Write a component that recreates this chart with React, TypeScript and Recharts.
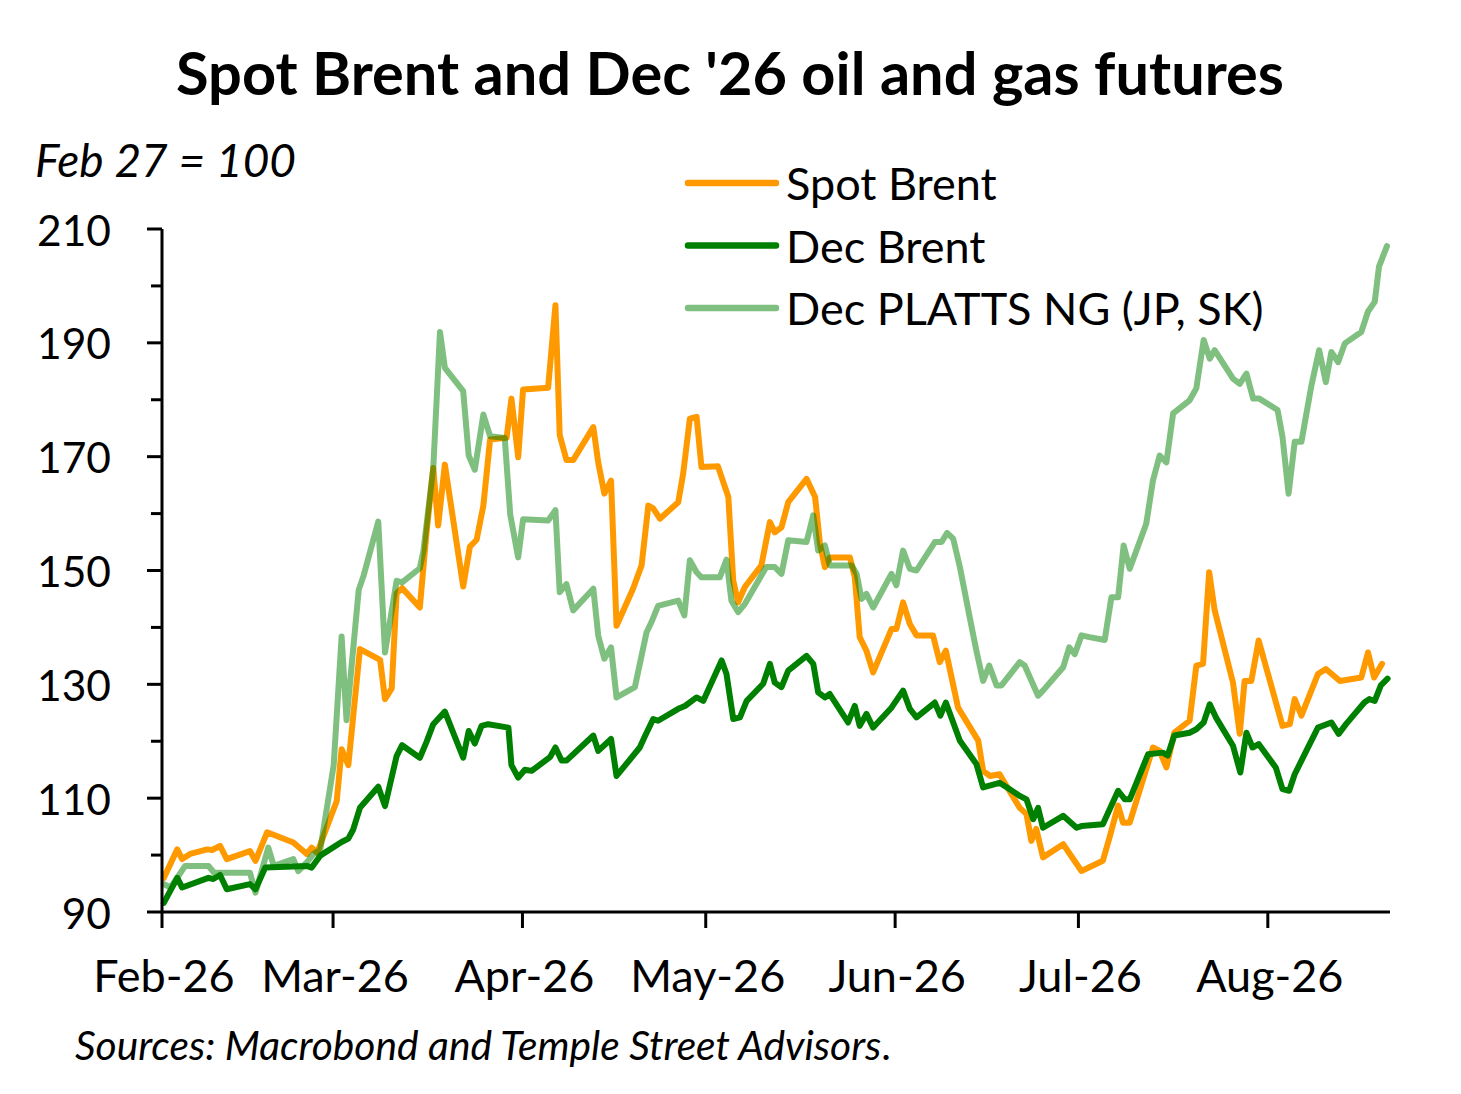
import React from "react";
import { LineChart, Line, XAxis, YAxis } from "recharts";

// days since Feb 1 2026, index Feb 27 = 100
const spotDays = [0.3, 2.5, 3.3, 4.6, 7.4, 8.2, 9.5, 10.6, 14.4, 15.3, 17.2, 21.5, 23.7, 24.5, 25.4, 28.6, 29.4, 30.5, 32.4, 35.7, 36.5, 37.6, 38.4, 39.3, 42.2, 43.3, 44.4, 45.2, 46.3, 49.3, 50.4, 51.5, 52.6, 53.7, 56.4, 57.2, 58.3, 59.1, 63.2, 64.4, 65.1, 66.2, 67.3, 70.6, 71.4, 72.4, 73.5, 74.4, 77.1, 78.5, 79.6, 80.4, 81.5, 84.5, 85.3, 86.4, 87.5, 88.3, 91.0, 92.7, 93.5, 94.3, 95.4, 98.1, 99.5, 100.3, 101.4, 102.5, 105.5, 106.9, 107.7, 108.5, 109.3, 112.6, 113.4, 114.2, 115.3, 116.4, 119.4, 120.2, 121.3, 122.4, 123.5, 126.2, 127.3, 128.3, 130.3, 133.6, 134.4, 135.5, 137.1, 138.7, 140.4, 141.5, 142.3, 143.1, 144.2, 147.5, 150.5, 154.0, 155.1, 156.5, 157.3, 158.4, 162.2, 163.3, 164.4, 165.7, 168.2, 169.3, 170.4, 171.4, 172.3, 175.3, 176.4, 177.2, 178.3, 179.5, 183.4, 184.6, 185.4, 186.5, 189.2, 190.5, 192.8, 196.3, 197.4, 198.4, 199.7];
const spotValues = [96.0, 101.0, 99.3, 100.2, 101.0, 100.9, 101.6, 99.3, 100.7, 99.0, 104.0, 102.2, 100.2, 101.3, 100.4, 109.5, 118.6, 115.8, 136.2, 134.3, 127.4, 129.3, 146.0, 146.9, 143.5, 156.7, 168.0, 157.9, 168.6, 147.2, 154.2, 155.4, 161.4, 173.0, 173.3, 180.2, 169.9, 181.8, 182.1, 196.6, 173.8, 169.4, 169.4, 175.2, 169.0, 163.5, 165.8, 140.3, 146.8, 150.9, 161.4, 160.9, 159.1, 162.0, 167.0, 176.7, 177.0, 168.2, 168.3, 162.9, 148.2, 144.4, 147.1, 150.9, 158.5, 156.7, 157.6, 162.0, 166.1, 162.9, 154.7, 150.6, 152.3, 152.3, 148.8, 138.3, 135.9, 132.1, 139.7, 139.7, 144.4, 140.6, 138.6, 138.6, 133.9, 135.9, 125.9, 120.1, 114.8, 113.9, 114.2, 111.3, 108.3, 107.2, 102.5, 104.6, 99.6, 101.9, 97.2, 99.0, 103.1, 108.7, 105.7, 105.7, 118.9, 118.3, 115.4, 121.5, 123.6, 133.3, 133.6, 149.7, 143.0, 130.3, 121.3, 130.6, 130.6, 137.7, 122.7, 123.0, 127.4, 124.5, 131.8, 132.7, 130.6, 131.2, 135.6, 131.2, 133.6];

const decDays = [0.3, 2.5, 3.3, 7.6, 8.4, 9.5, 10.6, 14.4, 15.3, 16.9, 23.7, 24.5, 25.9, 29.4, 30.5, 31.3, 32.4, 35.4, 36.5, 38.4, 39.3, 42.2, 43.3, 44.4, 46.3, 49.3, 50.2, 51.2, 52.3, 53.4, 56.7, 57.2, 58.3, 59.4, 60.5, 63.5, 64.4, 65.4, 66.2, 70.6, 71.4, 73.5, 74.4, 78.2, 79.1, 80.4, 81.2, 84.5, 85.6, 87.5, 88.6, 91.6, 92.4, 93.5, 94.6, 95.7, 98.4, 99.5, 100.3, 101.4, 102.5, 105.5, 106.6, 107.4, 108.5, 109.3, 112.3, 113.4, 114.2, 115.3, 116.4, 119.4, 121.3, 122.4, 123.5, 126.5, 127.4, 128.3, 130.6, 133.3, 134.4, 137.1, 138.7, 140.4, 141.5, 142.6, 143.4, 144.2, 147.5, 149.7, 150.5, 154.0, 156.5, 157.6, 158.4, 161.4, 163.8, 164.6, 165.7, 168.2, 169.3, 170.5, 171.5, 172.5, 175.3, 176.5, 177.5, 178.5, 179.5, 182.3, 183.4, 184.5, 185.4, 187.3, 189.2, 191.4, 192.6, 193.8, 196.8, 197.6, 198.5, 199.5, 200.6];
const decValues = [91.6, 96.0, 94.3, 96.0, 95.8, 96.5, 94.0, 94.9, 94.0, 97.8, 98.1, 97.8, 99.9, 102.3, 102.9, 104.5, 108.3, 112.0, 108.6, 117.4, 119.3, 117.1, 119.9, 123.0, 125.2, 117.1, 121.8, 119.6, 122.7, 123.0, 122.4, 115.8, 113.6, 115.0, 114.8, 117.2, 118.9, 116.6, 116.6, 121.0, 118.3, 120.4, 113.9, 118.9, 121.0, 123.9, 123.6, 125.7, 126.2, 127.7, 127.1, 134.2, 131.8, 123.9, 124.2, 127.1, 130.1, 133.6, 130.3, 129.5, 132.4, 135.0, 133.6, 128.6, 127.7, 128.3, 123.3, 126.2, 122.7, 124.8, 122.4, 125.9, 128.9, 125.7, 124.2, 126.8, 124.5, 126.8, 120.1, 116.0, 111.9, 112.7, 111.6, 110.4, 109.8, 106.3, 108.3, 104.8, 106.9, 104.8, 105.1, 105.4, 111.3, 109.8, 109.8, 117.7, 118.0, 117.5, 121.0, 121.5, 122.1, 123.3, 126.5, 124.2, 119.2, 114.5, 121.5, 118.9, 119.5, 115.4, 111.6, 111.3, 114.2, 118.3, 122.4, 123.3, 121.3, 123.0, 126.8, 127.4, 127.1, 129.8, 131.0];

const ngDays = [0.3, 1.4, 3.8, 7.6, 8.5, 10.6, 14.4, 15.3, 17.4, 18.3, 21.5, 22.3, 23.7, 24.8, 25.9, 28.1, 29.4, 30.2, 32.2, 33.0, 35.4, 36.5, 38.4, 39.3, 42.2, 42.8, 44.4, 45.5, 46.3, 49.3, 50.2, 51.2, 52.6, 53.7, 56.1, 57.0, 58.3, 59.1, 63.2, 64.4, 65.1, 66.2, 67.3, 70.6, 71.4, 72.4, 73.5, 74.4, 77.4, 79.3, 80.1, 81.2, 84.5, 85.5, 86.4, 87.5, 88.3, 91.3, 92.4, 93.2, 94.3, 95.4, 98.9, 100.3, 101.4, 102.5, 105.5, 106.6, 107.4, 108.5, 109.3, 112.9, 113.7, 114.5, 115.3, 116.4, 119.4, 120.2, 121.3, 122.4, 123.5, 126.5, 127.6, 128.5, 129.5, 130.6, 132.2, 133.3, 134.4, 135.4, 136.6, 137.4, 140.4, 141.2, 143.4, 144.2, 147.5, 148.5, 149.4, 150.5, 151.8, 154.3, 155.4, 156.5, 157.4, 158.4, 161.1, 162.2, 163.3, 164.4, 165.5, 168.2, 169.3, 170.5, 171.5, 172.3, 175.3, 176.4, 177.5, 178.6, 179.6, 182.6, 183.4, 184.4, 185.4, 186.5, 188.1, 189.4, 190.5, 191.4, 192.5, 193.6, 196.3, 197.4, 198.5, 199.2, 200.5];
const ngValues = [94.9, 94.3, 98.1, 98.1, 96.9, 96.9, 96.9, 93.4, 101.3, 98.1, 99.3, 97.2, 98.7, 100.2, 100.9, 115.8, 138.4, 123.7, 146.6, 149.1, 158.6, 135.6, 148.2, 147.9, 150.4, 153.5, 168.0, 191.9, 185.6, 181.5, 170.2, 167.7, 177.4, 173.6, 173.3, 159.8, 152.3, 159.0, 158.8, 160.6, 146.2, 147.6, 143.0, 146.8, 138.6, 134.5, 136.5, 127.7, 129.5, 139.1, 140.9, 143.8, 144.7, 142.1, 151.8, 149.7, 148.8, 148.8, 151.9, 144.7, 142.7, 144.1, 150.6, 150.6, 149.4, 155.3, 155.0, 159.7, 153.5, 154.4, 150.9, 150.9, 149.4, 145.0, 145.9, 143.5, 149.4, 147.4, 153.5, 150.3, 150.0, 155.0, 155.0, 156.6, 155.6, 150.6, 141.8, 135.9, 130.6, 133.3, 129.8, 129.8, 133.9, 133.3, 128.0, 128.9, 133.0, 136.5, 135.3, 138.6, 138.3, 137.8, 145.3, 145.3, 154.4, 150.3, 158.2, 165.8, 170.2, 169.0, 177.6, 179.9, 182.0, 190.5, 187.2, 188.7, 183.7, 182.8, 184.6, 180.2, 180.2, 178.2, 173.5, 163.5, 172.6, 172.6, 182.3, 188.7, 183.1, 188.4, 186.6, 189.9, 191.9, 195.5, 197.2, 203.4, 207.0];

const monthTicks = [0, 28, 59, 89, 120, 150, 181];
const monthLabels = ["Feb-26", "Mar-26", "Apr-26", "May-26", "Jun-26", "Jul-26", "Aug-26"];
const valueTicks = [90, 100, 110, 120, 130, 140, 150, 160, 170, 180, 190, 200, 210];

const toRows = (days: number[], values: number[]) => days.map((d, i) => ({ d, v: values[i] }));

const series = [
  { name: "Spot Brent", color: "#FF9900", opacity: 1, rows: toRows(spotDays, spotValues) },
  { name: "Dec Brent", color: "#008000", opacity: 1, rows: toRows(decDays, decValues) },
  { name: "Dec PLATTS NG (JP, SK)", color: "#008000", opacity: 0.5, rows: toRows(ngDays, ngValues) },
];

const FONT = "Lato, 'Open Sans', sans-serif";

function YTick(props: any) {
  const { x, y, payload } = props;
  const major = payload.value % 20 === 10;
  return (
    <g>
      <line x1={x - (major ? 15 : 11)} x2={x} y1={y} y2={y} stroke="#000" strokeWidth={3} />
      {major && (
        <text x={x - 51} y={y} textAnchor="end" dominantBaseline="central" fontFamily={FONT} fontSize={42.5} fill="#000">
          {payload.value}
        </text>
      )}
    </g>
  );
}

function XTick(props: any) {
  const { x, y, payload } = props;
  const label = monthLabels[monthTicks.indexOf(payload.value)];
  return (
    <g>
      <line x1={x} x2={x} y1={y} y2={y + 16} stroke="#000" strokeWidth={3} />
      <text x={x + 2} y={y + 80} textAnchor="middle" fontFamily={FONT} fontSize={45} fill="#000">
        {label}
      </text>
    </g>
  );
}

export default function App() {
  return (
    <div style={{ position: "absolute", left: 0, top: 0, width: 1461, height: 1094, background: "#fff" }}>
      <LineChart width={1461} height={1094} margin={{ top: 229, right: 71, bottom: 0, left: 0 }}>
        <XAxis
          dataKey="d"
          type="number"
          domain={[0, 201]}
          ticks={monthTicks}
          height={182}
          tickSize={0}
          tickMargin={0}
          tickLine={false}
          axisLine={{ stroke: "#000", strokeWidth: 3 }}
          tick={<XTick />}
          allowDuplicatedCategory={false}
        />
        <YAxis
          type="number"
          domain={[90, 210]}
          ticks={valueTicks}
          width={162}
          tickSize={0}
          tickMargin={0}
          tickLine={false}
          axisLine={{ stroke: "#000", strokeWidth: 3 }}
          tick={<YTick />}
          interval={0}
        />
        {series.map((s) => (
          <Line
            key={s.name}
            data={s.rows}
            dataKey="v"
            name={s.name}
            type="linear"
            stroke={s.color}
            strokeOpacity={s.opacity}
            strokeWidth={6}
            strokeLinejoin="round"
            strokeLinecap="round"
            dot={false}
            activeDot={false}
            isAnimationActive={false}
          />
        ))}
      </LineChart>
      <svg width={1461} height={1094} style={{ position: "absolute", left: 0, top: 0, pointerEvents: "none" }}>
        <text x={730} y={95} textAnchor="middle" fontFamily={FONT} fontWeight={700} fontSize={59.5} fill="#000">
          Spot Brent and Dec '26 oil and gas futures
        </text>
        <text x={35} y={177} fontFamily={FONT} fontStyle="italic" fontSize={46} fill="#000">
          Feb 27 = 100
        </text>
        {series.map((s, i) => (
          <g key={s.name}>
            <line x1={688} x2={776} y1={183 + i * 62.5} y2={183 + i * 62.5} stroke={s.color} strokeOpacity={s.opacity} strokeWidth={6.5} strokeLinecap="round" />
            <text x={786} y={183 + i * 62.5} dominantBaseline="central" fontFamily={FONT} fontSize={45} fill="#000">
              {s.name}
            </text>
          </g>
        ))}
        <text x={75} y={1060} fontFamily={FONT} fontStyle="italic" fontSize={40.7} fill="#000">
          Sources: Macrobond and Temple Street Advisors<tspan fontStyle="normal">.</tspan>
        </text>
      </svg>
    </div>
  );
}
